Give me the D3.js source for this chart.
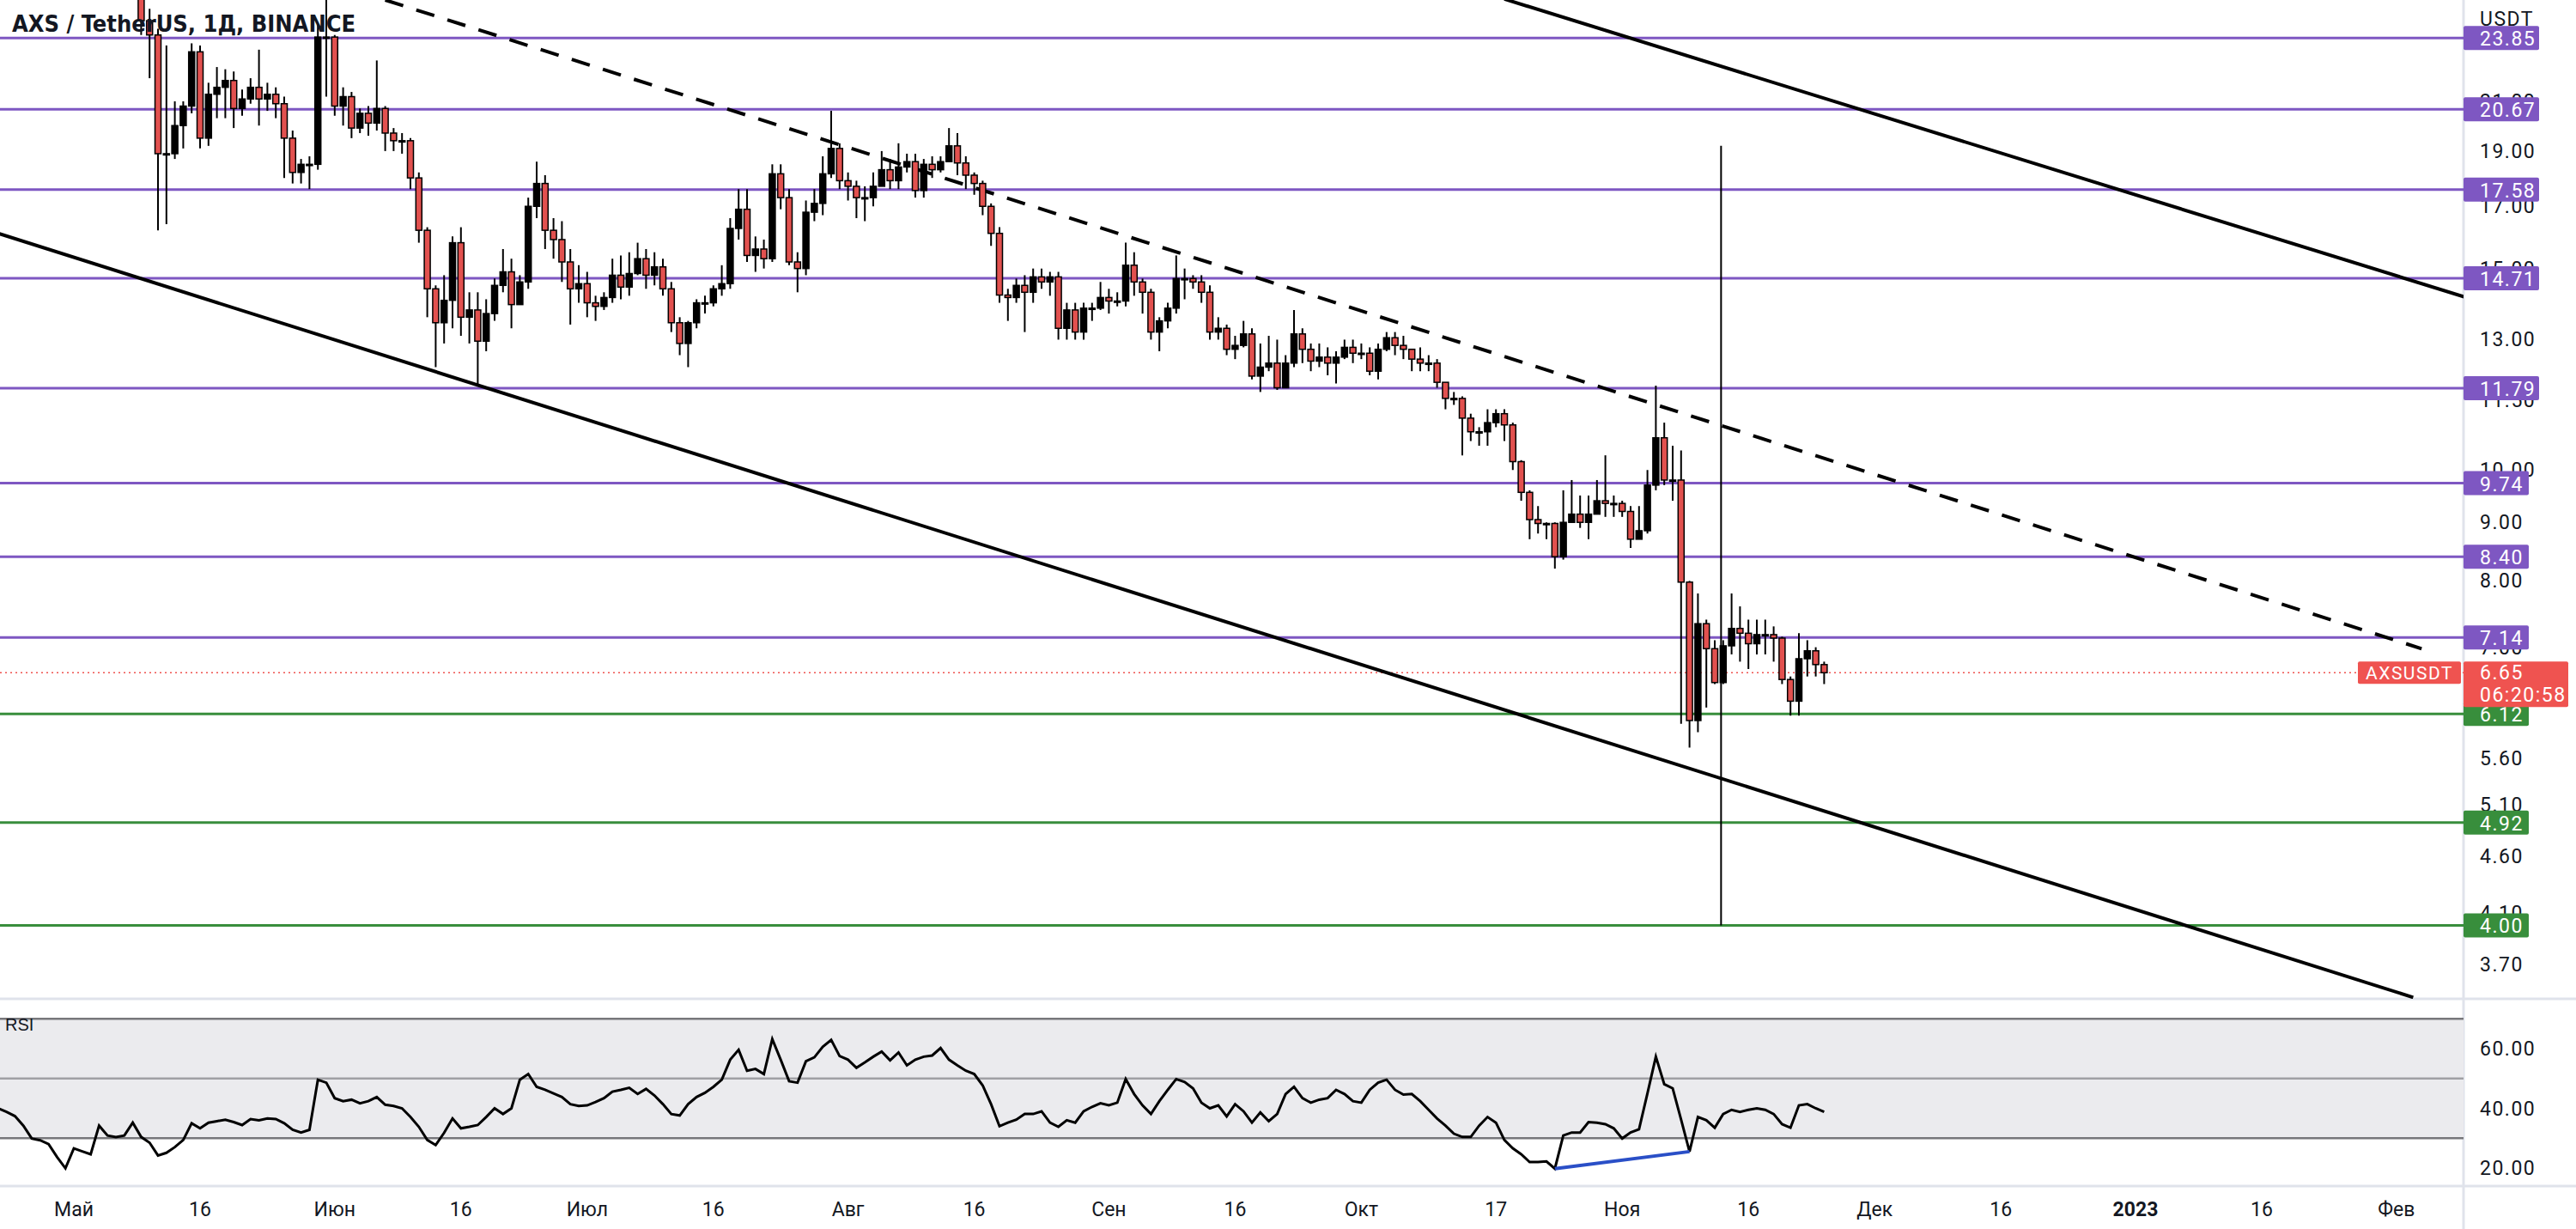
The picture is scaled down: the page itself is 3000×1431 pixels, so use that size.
<!DOCTYPE html>
<html>
<head>
<meta charset="utf-8">
<script src="https://cdn.jsdelivr.net/npm/d3@7"></script>
<style>
body { margin:0; background:#fff; }
svg text { font-family: Roboto, "Liberation Sans", sans-serif; }
</style>
</head>
<body>
<div id="chart"></div>
<script>
// daily candles from 2022-05-09, open = previous close
var firstDay = "2022-05-09";
var firstOpen = 30;
var closes = [
 24.7,24.0,18.9,18.9,20.0,20.8,23.2,19.5,21.3,21.6,
 21.9,20.7,21.1,21.6,21.1,21.3,20.9,19.5,18.2,18.5,
 18.5,23.9,23.9,20.8,21.2,19.9,20.5,20.1,20.7,19.7,
 19.4,19.4,18.0,16.2,14.4,13.45,14.07,15.8,13.6,13.8,
 12.96,13.7,14.5,14.9,13.95,14.6,17.0,17.8,16.2,15.9,
 15.2,14.4,14.55,14.0,13.9,14.15,14.8,14.45,14.85,15.3,
 14.8,15.05,14.4,13.45,12.9,13.45,14.0,14.0,14.4,14.55,
 16.26,16.9,15.4,15.6,15.3,18.15,17.3,15.2,15.0,16.8,
 17.1,18.15,19.1,17.9,17.7,17.3,17.3,17.7,18.3,17.9,
 18.4,18.6,17.55,18.5,18.3,18.6,19.2,18.55,18.1,17.8,
 17.0,16.1,14.22,14.15,14.5,14.3,14.75,14.6,14.75,13.3,
 13.8,13.2,13.85,13.85,14.15,14.05,14.05,15.1,14.6,14.3,
 13.2,13.5,13.85,14.7,14.7,14.6,14.3,13.2,13.3,12.75,
 12.85,13.15,12.08,12.3,12.4,11.8,12.4,13.15,12.75,12.45,
 12.55,12.4,12.55,12.8,12.65,12.65,12.2,12.75,13.05,12.85,
 12.75,12.5,12.4,12.4,11.93,11.55,11.55,11.1,10.8,10.8,
 11.0,11.2,10.95,10.17,9.56,9.05,8.98,8.98,8.40,9.0,
 9.15,9.0,9.15,9.4,9.35,9.35,9.2,8.7,8.85,9.7,
 10.67,9.8,9.8,7.98,6.04,7.34,6.98,6.52,7.02,7.27,
 7.2,7.05,7.18,7.18,7.13,6.56,6.28,6.84,6.95,6.76,6.65
];
var highs = [
 31,25.3,24.3,23.5,21.0,21.0,23.6,23.5,21.8,22.5,
 22.4,22.3,21.5,22.0,23.3,21.8,21.6,21.2,19.8,18.7,
 18.8,24.5,26.0,24.0,21.6,21.4,20.7,20.8,22.8,20.8,
 19.9,19.7,19.5,18.2,16.3,14.5,14.8,16.0,16.3,14.3,
 14.3,14.1,14.7,15.6,15.3,14.8,17.3,18.6,18.1,16.6,
 16.5,15.6,15.1,14.9,14.2,14.3,15.3,15.4,15.5,15.8,
 15.6,15.5,15.3,14.6,13.6,13.5,14.1,14.2,14.5,15.1,
 16.6,17.6,17.6,16.0,15.9,18.5,18.5,17.6,15.5,17.2,
 17.6,18.8,20.6,19.3,18.2,17.9,17.7,18.2,19.0,18.7,
 19.3,18.9,18.9,18.7,18.8,18.8,19.9,19.7,18.8,18.2,
 17.9,17.1,16.3,14.4,14.7,14.8,15.0,15.0,14.9,14.9,
 14.0,14.0,14.0,14.0,14.6,14.4,14.3,15.8,15.5,14.7,
 14.4,13.6,14.0,15.4,15.0,14.8,14.8,14.5,13.6,13.4,
 13.1,13.5,13.3,12.9,13.1,13.0,12.6,13.8,13.3,12.9,
 12.9,12.8,12.7,13.0,13.0,12.9,12.8,12.9,13.2,13.2,
 13.1,12.7,12.8,12.6,12.5,11.9,11.7,11.6,11.2,10.9,
 11.3,11.3,11.3,11.0,10.2,9.6,9.3,9.0,9.0,9.6,
 9.8,9.5,9.5,9.8,10.3,9.5,9.4,9.3,9.3,10.0,
 11.85,11.0,10.5,10.4,8.0,7.8,7.4,7.1,7.1,7.8,
 7.6,7.4,7.4,7.4,7.3,7.15,6.6,7.2,7.1,7.0,6.8
];
var lows = [
 24.0,22.0,16.2,16.4,18.7,19.1,20.5,19.1,19.2,20.3,
 20.3,19.9,20.4,20.9,20.0,20.6,20.3,18.0,17.8,17.8,
 17.6,18.3,21.2,20.4,20.0,19.5,19.7,19.6,19.8,19.0,
 19.0,18.9,17.6,15.8,13.6,12.3,12.9,13.3,13.1,12.9,
 11.85,12.7,13.5,14.3,13.3,14.0,14.4,16.6,15.6,15.3,
 14.6,13.4,14.0,13.6,13.5,13.8,14.0,14.1,14.2,14.8,
 14.4,14.5,14.2,13.2,12.6,12.3,13.3,13.7,13.9,14.2,
 14.4,15.9,15.2,14.9,15.0,15.2,16.9,15.1,14.3,14.8,
 16.5,16.7,18.0,17.6,17.2,16.6,16.5,17.0,17.9,17.6,
 17.6,18.2,17.3,17.3,18.0,18.2,18.7,18.1,17.6,17.4,
 16.7,15.7,14.0,13.5,14.0,13.2,14.0,14.4,14.2,13.0,
 13.0,13.0,13.0,13.5,13.8,13.7,13.9,13.9,14.2,13.7,
 13.0,12.7,13.3,13.7,14.1,14.4,14.0,13.0,13.0,12.6,
 12.5,12.8,12.0,11.7,12.2,11.75,11.8,12.3,12.4,12.2,
 12.3,12.1,11.9,12.5,12.4,12.5,12.1,12.0,12.7,12.6,
 12.5,12.2,12.2,12.2,11.8,11.3,11.4,10.3,10.6,10.5,
 10.5,10.9,10.6,10.0,9.4,8.7,8.8,8.7,8.2,8.35,
 9.0,8.9,8.7,9.2,9.1,9.1,9.1,8.55,8.8,8.8,
 9.6,9.7,9.4,6.0,5.72,5.9,6.2,6.5,6.5,6.9,
 6.8,6.7,6.9,6.9,6.8,6.5,6.1,6.1,6.6,6.6,6.5
];

// RSI, daily from 2022-04-22
var rsiStart = "2022-04-22";
var rsi = [
 40,38.8,37.4,34.2,29.9,29.3,28.0,23.7,19.9,
 26.6,25.6,24.6,34.2,30.9,30.4,30.9,35.2,30.4,28.5,
 24.2,25.1,27.0,29.4,35.0,33.3,35.2,35.7,36.2,35.4,
 34.4,36.4,36.0,36.6,36.4,35.0,32.8,31.9,32.8,49.6,
 48.6,43.4,42.4,42.9,41.7,42.4,43.8,41.2,40.8,40.0,
 37.1,33.8,29.4,27.7,31.8,36.6,33.3,33.8,34.4,37.1,
 40.0,38.1,40.0,49.6,51.5,47.2,46.2,45.0,43.8,41.4,
 40.8,41.0,42.1,43.4,45.6,46.2,46.9,44.8,46.5,44.3,
 41.4,38.1,37.6,41.4,43.8,45.2,47.2,49.6,56.3,59.6,
 52.6,53.2,51.5,63.2,56.3,49.1,48.6,55.8,57.1,60.6,
 62.9,57.5,56.3,53.6,55.4,57.3,59.0,56.1,58.7,54.4,
 56.3,57.3,57.7,60.2,56.3,54.4,52.6,51.5,47.7,41.4,
 34.0,35.2,36.2,38.1,38.1,39.0,35.2,33.8,36.0,35.2,
 39.0,40.5,41.7,41.0,41.9,49.8,44.8,41.0,38.1,42.4,
 46.2,49.8,48.8,46.7,41.9,40.0,41.0,37.3,41.4,39.0,
 35.2,38.6,35.7,38.1,44.8,47.2,43.4,41.9,42.9,43.4,
 46.2,44.8,42.4,41.9,46.2,48.6,49.6,46.2,44.6,44.8,
 42.4,39.5,36.6,34.2,31.5,30.4,30.4,34.2,37.1,35.2,
 29.4,26.6,24.6,22.0,22.0,22.2,19.8,30.9,31.9,31.9,
 35.4,35.2,34.7,33.3,29.9,31.9,33.0,45.0,57.3,48.1,
 46.7,36.2,25.5,37.1,36.0,33.5,38.1,39.5,38.8,39.5,
 40.0,39.5,38.1,34.7,33.5,41.0,41.4,40.0,38.8
];

var purpleLevels = [23.85, 20.67, 17.58, 14.71, 11.79, 9.74, 8.40, 7.14];
var greenLevels = [6.12, 4.92, 4.00];
var lastPrice = 6.65;
var priceTicks = [21.00, 19.00, 17.00, 15.00, 13.00, 11.50, 10.00, 9.00, 8.00, 7.00, 5.60, 5.10, 4.60, 4.10, 3.70];
var rsiTicks = [60, 40, 20];
var rsiBands = [70, 50, 30];
var timeTicks = [
 ["2022-05-01","Май"],["2022-05-16","16"],["2022-06-01","Июн"],["2022-06-16","16"],
 ["2022-07-01","Июл"],["2022-07-16","16"],["2022-08-01","Авг"],["2022-08-16","16"],
 ["2022-09-01","Сен"],["2022-09-16","16"],["2022-10-01","Окт"],["2022-10-17","17"],
 ["2022-11-01","Ноя"],["2022-11-16","16"],["2022-12-01","Дек"],["2022-12-16","16"],
 ["2023-01-01","2023"],["2023-01-16","16"],["2023-02-01","Фев"]
];
// drawn trend lines: [date, price] pairs
var trendSolid = [
 [["2022-10-18", 25.8], ["2023-02-10", 14.1]],
 [["2022-04-22", 16.1], ["2023-02-03", 3.46]]
];
var trendDashed = [["2022-06-07", 25.75], ["2023-02-04", 6.98]];
var vLine = [["2022-11-12T18:00", 19.2], ["2022-11-12T18:00", 4.0]];
var rsiDiv = [["2022-10-24", 19.8], ["2022-11-09", 25.5]];

var W = 3000, H = 1431, plotR = 2869, mainB = 1163, rsiT = 1163, rsiB = 1381;
var DAY = 864e5;
function pd(s) { return new Date(s.length > 10 ? s + "Z" : s + "T00:00Z"); }

var may1 = pd("2022-05-01").getTime(), pxDay = 9.8;
var x = d3.scaleUtc()
  .domain([new Date(may1 - 86 / pxDay * DAY), new Date(may1 + (plotR - 86) / pxDay * DAY)])
  .range([0, plotR]);
var y = d3.scaleLog().domain([3.45, 25.75]).range([mainB, 0]);
var yr = d3.scaleLinear().domain([20, 60]).range([1360, 1221]);

var candles = closes.map(function(c, i) {
  return { date: new Date(pd(firstDay).getTime() + i * DAY),
           o: i === 0 ? firstOpen : closes[i - 1], c: c, h: highs[i], l: lows[i] };
});
var rsiData = rsi.map(function(v, i) { return { date: new Date(pd(rsiStart).getTime() + i * DAY), v: v }; });

var svg = d3.select("#chart").append("svg").attr("width", W).attr("height", H);
svg.append("rect").attr("width", W).attr("height", H).attr("fill", "#fff");
svg.append("clipPath").attr("id", "cm").append("rect").attr("width", plotR).attr("height", mainB);
svg.append("clipPath").attr("id", "cr").append("rect").attr("y", rsiT).attr("width", plotR).attr("height", rsiB - rsiT);

// separators
svg.append("line").attr("x1", 0).attr("x2", W).attr("y1", mainB).attr("y2", mainB).attr("stroke", "#e0e3eb").attr("stroke-width", 3);
svg.append("line").attr("x1", 0).attr("x2", W).attr("y1", rsiB).attr("y2", rsiB).attr("stroke", "#e0e3eb").attr("stroke-width", 3);
svg.append("line").attr("x1", plotR).attr("x2", plotR).attr("y1", 0).attr("y2", H).attr("stroke", "#e0e3eb").attr("stroke-width", 3);

var main = svg.append("g").attr("clip-path", "url(#cm)");

main.selectAll(".pl").data(purpleLevels).enter().append("line")
  .attr("x1", 0).attr("x2", plotR).attr("y1", y).attr("y2", y)
  .attr("stroke", "#7e57c2").attr("stroke-width", 3);
main.selectAll(".gl").data(greenLevels).enter().append("line")
  .attr("x1", 0).attr("x2", plotR).attr("y1", y).attr("y2", y)
  .attr("stroke", "#388e3c").attr("stroke-width", 3);
main.append("line").attr("x1", 0).attr("x2", plotR).attr("y1", y(lastPrice)).attr("y2", y(lastPrice))
  .attr("stroke", "#ef5350").attr("stroke-width", 1.5).attr("stroke-dasharray", "2,4");

function seg(p) {
  return { x1: x(pd(p[0][0])), y1: y(p[0][1]), x2: x(pd(p[1][0])), y2: y(p[1][1]) };
}
trendSolid.forEach(function(p) {
  var s = seg(p);
  main.append("line").attr("x1", s.x1).attr("y1", s.y1).attr("x2", s.x2).attr("y2", s.y2)
    .attr("stroke", "#000").attr("stroke-width", 4);
});
var sd = seg(trendDashed);
main.append("line").attr("x1", sd.x1).attr("y1", sd.y1).attr("x2", sd.x2).attr("y2", sd.y2)
  .attr("stroke", "#000").attr("stroke-width", 4).attr("stroke-dasharray", "22,16");
var sv = seg(vLine);
main.append("line").attr("x1", sv.x1).attr("y1", sv.y1).attr("x2", sv.x2).attr("y2", sv.y2)
  .attr("stroke", "#000").attr("stroke-width", 2);

// candles
var cg = main.selectAll(".c").data(candles).enter().append("g");
cg.append("line")
  .attr("x1", function(d) { return x(d.date); }).attr("x2", function(d) { return x(d.date); })
  .attr("y1", function(d) { return y(d.h); }).attr("y2", function(d) { return y(d.l); })
  .attr("stroke", "#000").attr("stroke-width", 2);
cg.append("rect")
  .attr("x", function(d) { return x(d.date) - 3.5; }).attr("width", 7)
  .attr("y", function(d) { return y(Math.max(d.o, d.c)); })
  .attr("height", function(d) { return Math.max(1.5, Math.abs(y(d.o) - y(d.c))); })
  .attr("fill", function(d) { return d.c >= d.o ? "#000" : "#e2514f"; })
  .attr("stroke", "#000").attr("stroke-width", 1.5);

// title
svg.append("text").attr("x", 14).attr("y", 37).text("AXS / TetherUS, 1Д, BINANCE")
  .style("font-family", "'Liberation Sans Narrow','DejaVu Sans Condensed',sans-serif")
  .style("font-weight", "bold").style("font-size", "27px").attr("fill", "#131722");

// price axis
var axT = svg.append("g");
axT.selectAll("text").data(priceTicks).enter().append("text")
  .attr("x", 2888).attr("y", function(d) { return y(d) + 8; })
  .text(function(d) { return d.toFixed(2); })
  .style("font-size", "23px").style("letter-spacing", "1.5px").attr("fill", "#131722");
svg.append("text").attr("x", 2888).attr("y", 30).text("USDT")
  .style("font-size", "23px").style("letter-spacing", "1.5px").attr("fill", "#131722");

function badge(v, col) {
  var t = v.toFixed(2), w = t.length > 4 ? 88 : 76;
  svg.append("rect").attr("x", plotR).attr("y", y(v) - 14).attr("width", w).attr("height", 28).attr("rx", 2).attr("fill", col);
  svg.append("text").attr("x", 2888).attr("y", y(v) + 9).text(t)
    .style("font-size", "23px").style("letter-spacing", "1.5px").attr("fill", "#fff");
}
purpleLevels.forEach(function(v) { badge(v, "#7e57c2"); });
greenLevels.forEach(function(v) { badge(v, "#388e3c"); });

var ly = y(lastPrice);
svg.append("rect").attr("x", 2746).attr("y", ly - 13).attr("width", 120).attr("height", 26).attr("rx", 2).attr("fill", "#ef5350");
svg.append("text").attr("x", 2806).attr("y", ly + 8).attr("text-anchor", "middle").text("AXSUSDT")
  .style("font-size", "21px").style("letter-spacing", "1.5px").attr("fill", "#fff");
svg.append("rect").attr("x", plotR).attr("y", ly - 13).attr("width", 122).attr("height", 53).attr("rx", 2).attr("fill", "#ef5350");
svg.append("text").attr("x", 2888).attr("y", ly + 8).text(lastPrice.toFixed(2))
  .style("font-size", "23px").style("letter-spacing", "1.5px").attr("fill", "#fff");
svg.append("text").attr("x", 2888).attr("y", ly + 34).text("06:20:58")
  .style("font-size", "23px").style("letter-spacing", "1.5px").attr("fill", "#fff");

// RSI pane
var rp = svg.append("g").attr("clip-path", "url(#cr)");
rp.append("rect").attr("x", 0).attr("width", plotR).attr("y", yr(70)).attr("height", yr(30) - yr(70)).attr("fill", "#ebebee");
rp.selectAll(".b").data(rsiBands).enter().append("line")
  .attr("x1", 0).attr("x2", plotR).attr("y1", yr).attr("y2", yr)
  .attr("stroke", function(d) { return d === 50 ? "#a0a0a4" : "#77777b"; }).attr("stroke-width", 2.5);
rp.append("path").datum(rsiData)
  .attr("d", d3.line().x(function(d) { return x(d.date); }).y(function(d) { return yr(d.v); }))
  .attr("fill", "none").attr("stroke", "#000").attr("stroke-width", 3);
rp.append("line")
  .attr("x1", x(pd(rsiDiv[0][0]))).attr("y1", yr(rsiDiv[0][1]))
  .attr("x2", x(pd(rsiDiv[1][0]))).attr("y2", yr(rsiDiv[1][1]))
  .attr("stroke", "#2a4fc7").attr("stroke-width", 4);
svg.append("text").attr("x", 6).attr("y", 1200).text("RSI")
  .style("font-family", "'Liberation Sans Narrow',sans-serif").style("font-size", "20px").attr("fill", "#131722");
svg.selectAll(".rt").data(rsiTicks).enter().append("text")
  .attr("x", 2888).attr("y", function(d) { return yr(d) + 8; })
  .text(function(d) { return d.toFixed(2); })
  .style("font-size", "23px").style("letter-spacing", "1.5px").attr("fill", "#131722");

// time axis
svg.selectAll(".tt").data(timeTicks).enter().append("text")
  .attr("x", function(d) { return x(pd(d[0])); }).attr("y", 1416)
  .attr("text-anchor", "middle").text(function(d) { return d[1]; })
  .style("font-size", "23px").style("font-weight", function(d) { return d[1] === "2023" ? "bold" : "normal"; })
  .attr("fill", "#131722");
</script>
</body>
</html>
